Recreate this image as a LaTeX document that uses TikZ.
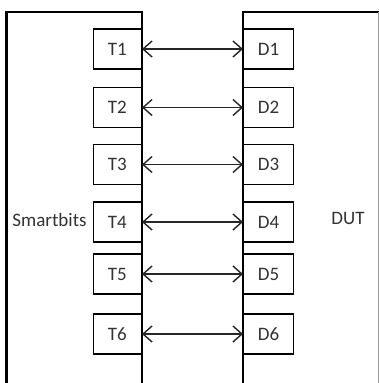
\documentclass[tikz,border=0pt]{standalone}
\usepackage{fontspec}
\setmainfont{Carlito}
\usetikzlibrary{arrows.meta}
\begin{document}
\begin{tikzpicture}[x=1pt,y=-1pt,
  port/.style={draw=black,line width=1.3pt,minimum width=48pt,minimum height=40pt,inner sep=0pt,font=\fontsize{19}{21}\selectfont,text=black!80},
  dport/.style={port,minimum width=50pt},
  unit/.style={draw=black,line width=2.3pt},
  biarrow/.style={draw=black!85,line width=1.4pt,{Straight Barb[length=9pt,width=16pt,line width=1.4pt]}-{Straight Barb[length=9pt,width=16pt,line width=1.4pt]}},
  lbl/.style={font=\fontsize{19}{21}\selectfont,text=black!80,inner sep=0pt}]
\useasboundingbox (0,0) rectangle (379,383);
\fill[white] (0,0) rectangle (379,383);
% big units
\draw[unit] (6.5,384) -- (6.5,12) -- (142,12) -- (142,384);
\draw[unit] (243,384) -- (243,12) -- (380,12);
\draw[black!40,line width=0.8pt] (378.5,12) -- (378.5,384);
% ports
\foreach \i/\y in {1/49,2/107.5,3/164.5,4/222,5/274,6/334}{
  \node[port,anchor=east] (T\i) at (142,\y) {T\i};
  \node[dport,anchor=west] (D\i) at (243,\y) {D\i};
  \draw[biarrow] (T\i.east) -- (D\i.west);
}
\node[lbl] (sb) at (49.5,220) {Smartbits};
\node[lbl] (dut) at (348,218) {DUT};
\end{tikzpicture}
\end{document}
